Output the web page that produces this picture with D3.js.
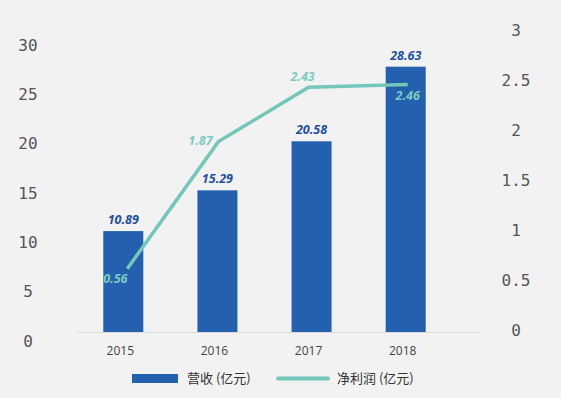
<!DOCTYPE html>
<html>
<head>
<meta charset="utf-8">
<script src="https://cdn.jsdelivr.net/npm/d3@7/dist/d3.min.js"></script>
<style>
  html, body { margin: 0; padding: 0; background: #f2f2f2; }
  svg { display: block; }
</style>
</head>
<body>
<svg id="chart" width="561" height="398"></svg>
<script>
const years = ['2015', '2016', '2017', '2018'];
const revenue = [10.89, 15.29, 20.58, 28.63];     // 营收 (亿元)
const profit = [0.56, 1.87, 2.43, 2.46];          // 净利润 (亿元)
const leftTicks = [0, 5, 10, 15, 20, 25, 30];
const rightTicks = [0, 0.5, 1, 1.5, 2, 2.5, 3];
const legendNames = ['营收 (亿元)', '净利润 (亿元)'];

const W = 561, H = 398;
const barColor = '#2361ae';
const lineColor = '#72c6ba';
const baseY = 332;

const svg = d3.select('#chart');
svg.append('rect').attr('width', W).attr('height', H).attr('fill', '#f2f2f2');

const x = d3.scaleBand()
    .domain(years)
    .range([76, 453])
    .paddingInner(0.575)
    .paddingOuter(0.29);

// bars and line each sit on their own value scale
const yBar = d3.scaleLinear().domain([0, 30]).range([baseY, 54]);
const yLine = d3.scaleLinear().domain([0, 3]).range([323, 32]);
// where the tick labels are printed
const yLeftLab = d3.scaleLinear().domain([0, 30]).range([341, 45]);
const yRightLab = d3.scaleLinear().domain([0, 3]).range([330, 30]);

// axis tick labels
const axisFont = "'DejaVu Sans Mono', monospace";
svg.append('g').selectAll('text')
    .data(leftTicks).enter().append('text')
    .attr('x', 28)
    .attr('y', d => yLeftLab(d))
    .attr('dy', '0.35em')
    .attr('text-anchor', 'middle')
    .attr('font-family', axisFont)
    .attr('font-size', 16)
    .attr('fill', '#555')
    .text(d => d);

svg.append('g').selectAll('text')
    .data(rightTicks).enter().append('text')
    .attr('x', 516)
    .attr('y', d => yRightLab(d))
    .attr('dy', '0.35em')
    .attr('text-anchor', 'middle')
    .attr('font-family', axisFont)
    .attr('font-size', 16)
    .attr('fill', '#555')
    .text(d => d);

// baseline
svg.append('line')
    .attr('x1', 77).attr('x2', 480)
    .attr('y1', baseY + 0.5).attr('y2', baseY + 0.5)
    .attr('stroke', '#d9d9d9')
    .attr('stroke-width', 1);

// bars
svg.append('g').selectAll('rect')
    .data(revenue).enter().append('rect')
    .attr('x', (d, i) => x(years[i]))
    .attr('y', d => yBar(d))
    .attr('width', x.bandwidth())
    .attr('height', d => baseY - yBar(d))
    .attr('fill', barColor);

// x labels
svg.append('g').selectAll('text')
    .data(years).enter().append('text')
    .attr('x', d => x(d) + x.bandwidth() / 2 - 3)
    .attr('y', 355)
    .attr('text-anchor', 'middle')
    .attr('font-family', "'Open Sans', sans-serif")
    .attr('font-size', 12)
    .attr('fill', '#444')
    .text(d => d);

const labFont = "'Noto Sans', sans-serif";
svg.append('g').selectAll('text')
    .data(revenue).enter().append('text')
    .attr('x', (d, i) => x(years[i]) + x.bandwidth() / 2)
    .attr('y', d => yBar(d) - 7)
    .attr('text-anchor', 'middle')
    .attr('font-family', labFont)
    .attr('font-style', 'italic')
    .attr('font-weight', 'bold')
    .attr('font-size', 12.5)
    .attr('fill', '#1f4f9e')
    .text(d => d.toFixed(2));

// profit line
const cx = i => x(years[i]) + x.bandwidth() / 2 + [4, 1, -3, 2][i];
const line = d3.line()
    .x((d, i) => cx(i))
    .y(d => yLine(d));
svg.append('path')
    .datum(profit)
    .attr('d', line)
    .attr('fill', 'none')
    .attr('stroke', lineColor)
    .attr('stroke-width', 3.5);

const plOff = [[-12, 10], [-18, -1], [-6, -11], [0, 11]];
svg.append('g').selectAll('text')
    .data(profit).enter().append('text')
    .attr('x', (d, i) => cx(i) + plOff[i][0])
    .attr('y', (d, i) => yLine(d) + plOff[i][1])
    .attr('dy', '0.35em')
    .attr('text-anchor', 'middle')
    .attr('font-family', labFont)
    .attr('font-style', 'italic')
    .attr('font-weight', 'bold')
    .attr('font-size', 12.5)
    .attr('fill', '#7ecbc0')
    .text(d => d.toFixed(2));

// legend
const lg = svg.append('g').attr('font-family', "'Noto Sans CJK SC', sans-serif")
    .attr('font-size', 13).attr('fill', '#333');
lg.append('rect').attr('x', 132).attr('y', 374).attr('width', 46).attr('height', 9).attr('fill', barColor);
lg.append('text').attr('x', 187).attr('y', 378.5).attr('dy', '0.35em').text(legendNames[0]);
lg.append('line').attr('x1', 278).attr('x2', 328).attr('y1', 378.5).attr('y2', 378.5)
    .attr('stroke', lineColor).attr('stroke-width', 4).attr('stroke-linecap', 'round');
lg.append('text').attr('x', 337).attr('y', 378.5).attr('dy', '0.35em').text(legendNames[1]);
</script>
</body>
</html>
